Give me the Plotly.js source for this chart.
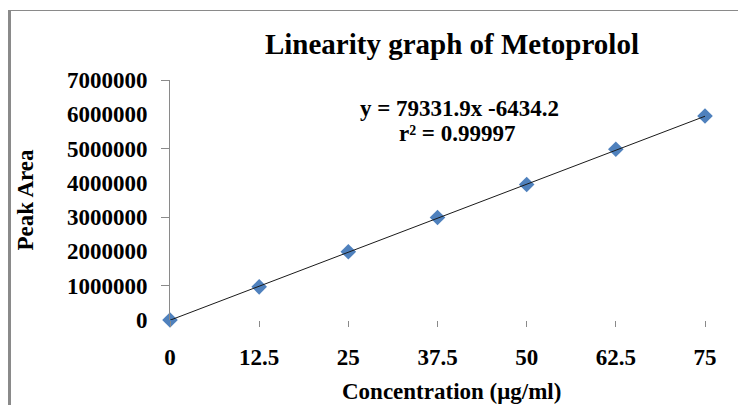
<!DOCTYPE html>
<html>
<head>
<meta charset="utf-8">
<script src="https://cdn.plot.ly/plotly-3.0.1.min.js"></script>
<style>
  html, body { margin: 0; padding: 0; background: #fff; overflow: hidden; }
  #wrap { position: relative; width: 738px; height: 405px; }
  #chart { position: absolute; left: 0; top: 0; width: 738px; height: 405px; }
  #frame { position: absolute; left: 8px; top: 10px; width: 740px; height: 400px;
           border-top: 1px solid #8a8a8a; border-left: 3px solid #8a8a8a; pointer-events: none; }
</style>
</head>
<body>
<div id="wrap">
  <div id="chart"></div>
  <div id="frame"></div>
</div>
<script>
// Data
const concentration = [0, 12.5, 25, 37.5, 50, 62.5, 75];
const peakArea = [0, 967000, 1990000, 2990000, 3950000, 4980000, 5950000];
const xTickVals = [0, 12.5, 25, 37.5, 50, 62.5, 75];
const xTickText = ['0', '12.5', '25', '37.5', '50', '62.5', '75'];
const yTickVals = [0, 1000000, 2000000, 3000000, 4000000, 5000000, 6000000, 7000000];
const yTickText = ['0', '1000000', '2000000', '3000000', '4000000', '5000000', '6000000', '7000000'];
const yMarkedTicks = [1000000, 3000000, 5000000, 7000000];
// Trendline from the displayed equation
const slope = 79331.9;
const intercept = -6434.2;
const trendX = [0, 75];
const trendY = trendX.map(x => slope * x + intercept);

const FONT = 'Liberation Serif, Times New Roman, serif';

const traces = [
  {
    x: trendX, y: trendY, type: 'scatter', mode: 'lines',
    line: { color: '#1a1a1a', width: 1 },
    xaxis: 'x', yaxis: 'y2', hoverinfo: 'skip', cliponaxis: false
  },
  {
    x: concentration, y: peakArea, type: 'scatter', mode: 'markers',
    marker: { symbol: 'diamond', size: 12, color: '#4F81BD', line: { width: 0 } },
    cliponaxis: false
  }
];

const layout = {
  width: 738, height: 405,
  margin: { l: 170, r: 33, t: 80, b: 85 },
  paper_bgcolor: '#ffffff', plot_bgcolor: '#ffffff',
  showlegend: false,
  font: { family: FONT, color: '#000' },
  title: {
    text: 'Linearity graph of Metoprolol',
    font: { family: FONT, size: 29, weight: 'bold', color: '#000' },
    xref: 'paper', x: 0.527, xanchor: 'center',
    yref: 'container', y: 1 - 44 / 405, yanchor: 'middle'
  },
  xaxis: {
    range: [0, 75], showgrid: false, zeroline: false, showline: false,
    tickvals: xTickVals, ticktext: xTickText,
    ticks: 'outside', ticklen: 6, tickcolor: '#8a8a8a', tickwidth: 1,
    tickfont: { family: FONT, size: 23, weight: 'bold', color: '#000' },
    ticklabelstandoff: 10
  },
  yaxis: {
    range: [0, 7000000], showgrid: false, zeroline: false,
    showline: true, linecolor: '#8a8a8a', linewidth: 1,
    tickvals: yTickVals, ticktext: yTickText,
    ticks: '',
    tickfont: { family: FONT, size: 23, weight: 'bold', color: '#000' },
    ticklabelstandoff: 17,
    title: {
      text: 'Peak Area', standoff: 26,
      font: { family: FONT, size: 23, weight: 'bold', color: '#000' }
    }
  },
  yaxis2: {
    range: [0, 7000000], overlaying: 'y', side: 'left', anchor: 'x',
    showgrid: false, zeroline: false, showline: false,
    tickvals: yMarkedTicks, showticklabels: false,
    ticks: 'outside', ticklen: 8, tickcolor: '#8a8a8a', tickwidth: 1
  },
  annotations: [
    {
      text: 'Concentration (μg/ml)', showarrow: false,
      xref: 'paper', x: 0.527, xanchor: 'center',
      yref: 'paper', y: (320 - 391) / 240, yanchor: 'middle',
      font: { family: FONT, size: 23, weight: 'bold', color: '#000' }
    },
    {
      text: 'y = 79331.9x -6434.2', showarrow: false,
      xref: 'paper', x: (459 - 170) / 535, xanchor: 'center',
      yref: 'paper', y: (320 - 108) / 240, yanchor: 'middle',
      font: { family: FONT, size: 23, weight: 'bold', color: '#000' }
    },
    {
      text: 'r² = 0.99997', showarrow: false,
      xref: 'paper', x: (457 - 170) / 535, xanchor: 'center',
      yref: 'paper', y: (320 - 133) / 240, yanchor: 'middle',
      font: { family: FONT, size: 23, weight: 'bold', color: '#000' }
    }
  ]
};

Plotly.newPlot('chart', traces, layout, { displayModeBar: false, staticPlot: true });
</script>
</body>
</html>
